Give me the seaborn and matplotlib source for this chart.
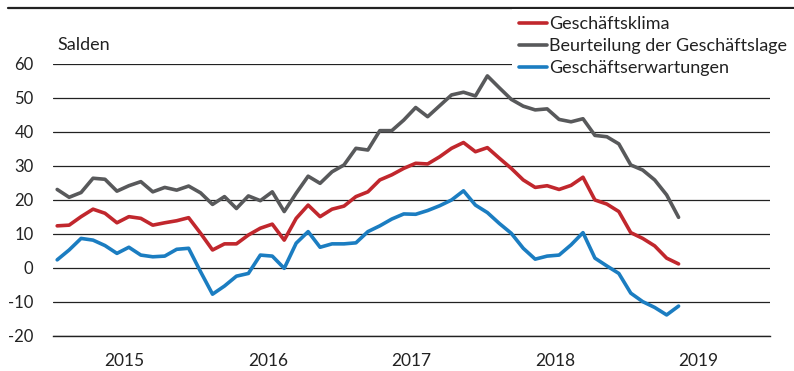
import numpy as np
import pandas as pd
import matplotlib
matplotlib.use("Agg")
import matplotlib.pyplot as plt
from matplotlib.lines import Line2D
from matplotlib.ticker import FixedLocator, NullFormatter
import seaborn as sns

# Monthly survey balances, January 2015 to May 2019
klima = [12.4, 12.6, 15.1, 17.3, 16.1, 13.3, 15.1, 14.6, 12.6, 13.3, 13.9, 14.8,
         10.2, 5.3, 7.1, 7.1, 9.7, 11.7, 12.9, 8.2, 14.6, 18.5, 15.1, 17.3,
         18.2, 21.0, 22.4, 25.9, 27.4, 29.3, 30.8, 30.6, 32.7, 35.2, 36.9, 34.2,
         35.4, 32.3, 29.3, 25.9, 23.7, 24.2, 23.1, 24.3, 26.7, 20.0, 18.8, 16.6,
         10.4, 8.7, 6.5, 2.9, 1.2]
lage = [23.1, 20.8, 22.2, 26.4, 26.1, 22.6, 24.2, 25.4, 22.4, 23.7, 22.9, 24.1,
        22.1, 18.7, 21.0, 17.5, 21.2, 19.8, 22.4, 16.6, 22.0, 27.0, 24.9, 28.3,
        30.3, 35.2, 34.7, 40.4, 40.4, 43.5, 47.2, 44.5, 47.7, 50.9, 51.7, 50.6,
        56.5, 53.0, 49.6, 47.6, 46.5, 46.8, 43.7, 43.0, 43.9, 39.0, 38.6, 36.5,
        30.3, 28.8, 25.9, 21.5, 14.9]
erwartungen = [2.4, 5.3, 8.7, 8.2, 6.6, 4.3, 6.1, 3.8, 3.3, 3.5, 5.5, 5.8,
               -1.1, -7.7, -5.3, -2.4, -1.6, 3.8, 3.5, -0.1, 7.3, 10.7, 6.1, 7.1,
               7.1, 7.4, 10.7, 12.4, 14.4, 15.9, 15.8, 16.9, 18.3, 20.0, 22.7, 18.5,
               16.3, 13.1, 10.2, 5.8, 2.6, 3.5, 3.8, 6.8, 10.4, 2.9, 0.6, -1.6,
               -7.4, -9.9, -11.6, -13.8, -11.2]

series_names = ["Geschäftsklima", "Beurteilung der Geschäftslage", "Geschäftserwartungen"]
colors = ["#C1272D", "#58595B", "#1B7DC1"]
years = [2015, 2016, 2017, 2018, 2019]
y_ticks = [-20, -10, 0, 10, 20, 30, 40, 50, 60]

# months since January 2015; each value sits a third into its month
month_pos = np.arange(len(klima)) + 0.35

df = pd.concat([
    pd.DataFrame({"Monat": month_pos, "Saldo": vals, "Reihe": name})
    for name, vals in zip(series_names, [klima, lage, erwartungen])
])

sns.set_style("white")
plt.rcParams["font.family"] = ["Lato", "DejaVu Sans"]
plt.rcParams["font.size"] = 12

fig = plt.figure(figsize=(7.94, 3.71), dpi=100)
ax = fig.add_axes([53 / 794, 1 - 336 / 371, (770 - 53) / 794, (336 - 64) / 371])

sns.lineplot(data=df, x="Monat", y="Saldo", hue="Reihe", hue_order=series_names,
             palette=colors, linewidth=2.6, ax=ax, legend=False)

ax.set_xlim(0, 12 * len(years))
ax.set_ylim(-20, 60)
ax.set_yticks(y_ticks)
ax.set_yticklabels([str(v) for v in y_ticks], color="#222222")
ax.yaxis.grid(True, color="#222222", linewidth=0.9)
ax.set_axisbelow(True)

ax.set_xticks([12 * k + 6 for k in range(len(years))])
ax.set_xticklabels([str(y) for y in years], color="#222222", fontsize=12.5)
ax.xaxis.set_minor_locator(FixedLocator([12 * k for k in range(len(years) + 1)]))
ax.xaxis.set_minor_formatter(NullFormatter())
ax.tick_params(axis="x", which="major", length=0, pad=12)
ax.tick_params(axis="x", which="minor", length=5, width=1.0, color="#222222", direction="out")
ax.tick_params(axis="y", length=0, pad=14)

for side in ["left", "right", "top"]:
    ax.spines[side].set_visible(False)
ax.spines["bottom"].set_color("#222222")
ax.spines["bottom"].set_linewidth(1.0)
ax.set_xlabel("")
ax.set_ylabel("")

fig.text(57 / 794, 1 - 45 / 371, "Salden", ha="left", va="center",
         color="#222222", fontsize=13)

# rule across the top of the figure
fig.add_artist(Line2D([8 / 794, 1.0], [1 - 8 / 371, 1 - 8 / 371],
                      transform=fig.transFigure, color="#222222", linewidth=1.6))

handles = [Line2D([], [], color=c, linewidth=2.6) for c in colors]
leg = fig.legend(handles, series_names, loc="upper left",
                 bbox_to_anchor=(512 / 794, 1 - 9 / 371),
                 frameon=True, facecolor="white", edgecolor="none", framealpha=1,
                 fancybox=False, borderpad=0.4, borderaxespad=0,
                 handlelength=1.55, handletextpad=0.1, labelspacing=0.33,
                 fontsize=13)
for t in leg.get_texts():
    t.set_color("#222222")

fig.savefig("out.png", dpi=100)
